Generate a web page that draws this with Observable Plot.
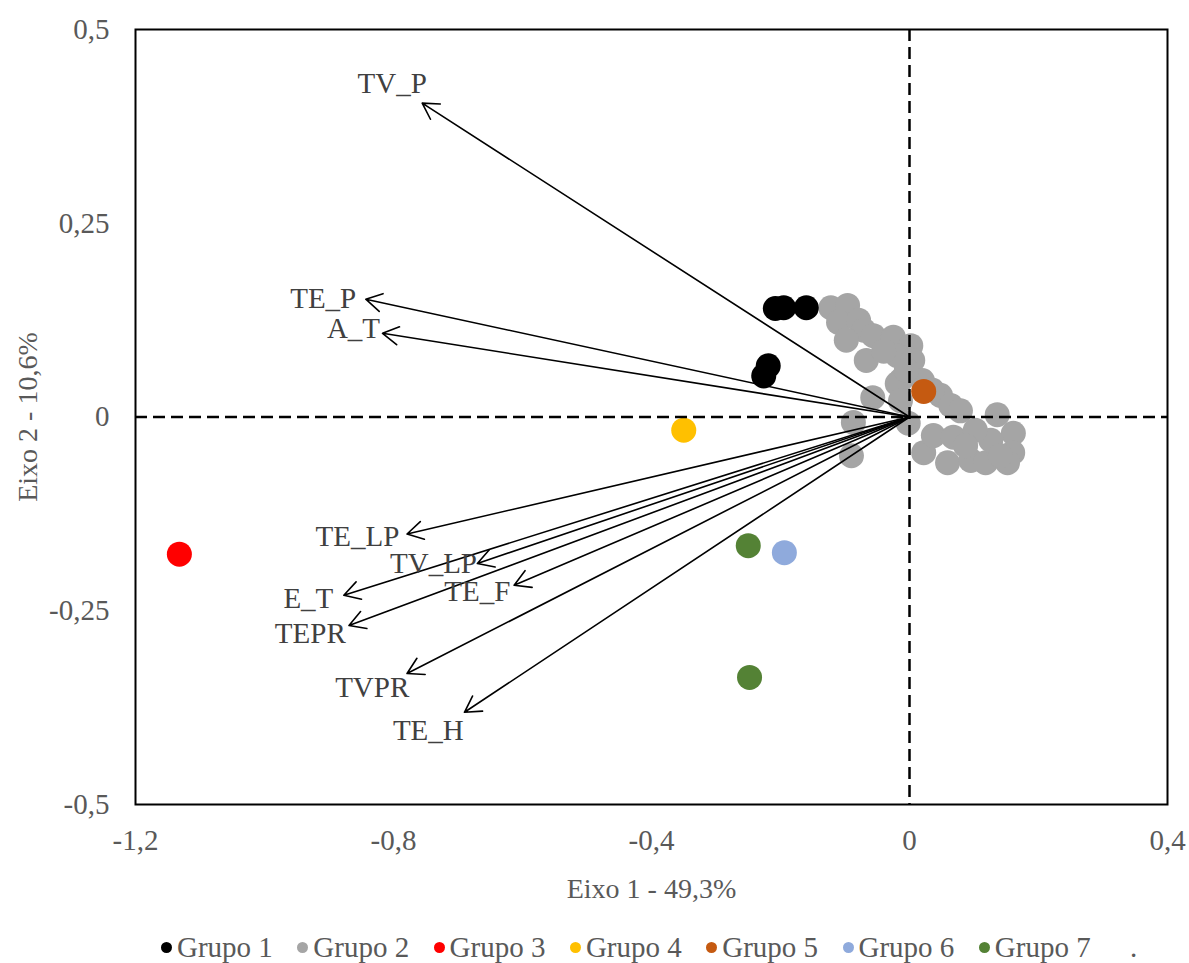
<!DOCTYPE html>
<html><head><meta charset="utf-8">
<script src="https://cdn.jsdelivr.net/npm/d3@7"></script>
<script src="https://cdn.jsdelivr.net/npm/@observablehq/plot@0.6"></script>
<style>
body{margin:0;background:#fff;font-family:"Liberation Serif",serif;}
#chart svg{display:block;}
#legend{position:relative;height:58px;font-size:29px;color:#595959;}
.item{position:absolute;top:27px;display:flex;align-items:center;white-space:nowrap;line-height:30px;}
.mk{display:inline-block;width:11px;height:11px;border-radius:50%;margin-right:5px;}
</style></head><body>
<div id="chart"></div>
<div id="legend"></div>
<script>
const groups = ["Grupo 1","Grupo 2","Grupo 3","Grupo 4","Grupo 5","Grupo 6","Grupo 7"];
const groupColors = ["#000000","#A5A5A5","#FF0000","#FFC000","#C55A11","#8FAADC","#548235"];

const g1X = [-0.208,-0.195,-0.160,-0.219,-0.226];
const g1Y = [0.140,0.141,0.141,0.066,0.053];
const g2X = [-0.122,-0.096,-0.110,-0.079,-0.071,-0.098,-0.056,-0.025,-0.067,0.002,-0.019,0.005,-0.014,0.020,-0.057,-0.019,-0.087,-0.090,-0.002,-0.014,0.048,0.064,0.079,0.136,0.161,0.160,0.022,0.037,0.068,0.059,0.095,0.118,0.152,0.126,0.102,0.087,0.141,-0.040,-0.005,0.035];
const g2Y = [0.141,0.144,0.122,0.125,0.112,0.099,0.105,0.103,0.073,0.092,0.079,0.073,0.047,0.047,0.025,0.043,-0.007,-0.050,-0.008,0.021,0.028,0.015,0.008,0.003,-0.021,-0.046,-0.046,-0.024,-0.026,-0.059,-0.056,-0.059,-0.059,-0.030,-0.017,-0.037,-0.050,0.085,0.060,0.035];
const g3X = [-1.132], g3Y = [-0.177];
const g4X = [-0.350], g4Y = [-0.017];
const g5X = [0.022], g5Y = [0.033];
const g6X = [-0.194], g6Y = [-0.175];
const g7X = [-0.250,-0.248], g7Y = [-0.166,-0.336];

const variables = ["TV_P","TE_P","A_T","TE_LP","TV_LP","TE_F","E_T","TEPR","TVPR","TE_H"];
const loadX = [-0.7555,-0.843,-0.817,-0.779,-0.670,-0.613,-0.877,-0.869,-0.779,-0.690];
const loadY = [0.405,0.152,0.108,-0.151,-0.189,-0.217,-0.230,-0.269,-0.331,-0.381];
const labelX = [-0.802,-0.909,-0.862,-0.856,-0.738,-0.670,-0.932,-0.929,-0.833,-0.746];
const labelY = [0.430,0.153,0.114,-0.155,-0.189,-0.226,-0.235,-0.279,-0.349,-0.405];

const xTicks = [-1.2,-0.8,-0.4,0,0.4];
const yTicks = [-0.5,-0.25,0,0.25,0.5];
const xTitle = "Eixo 1 - 49,3%";
const yTitle = "Eixo 2 - 10,6%";

const groupXs = [g1X,g2X,g3X,g4X,g5X,g6X,g7X];
const groupYs = [g1Y,g2Y,g3Y,g4Y,g5Y,g6Y,g7Y];
const drawOrder = [1,0,2,3,4,5,6];
const points = [];
for (const gi of drawOrder) {
  groupXs[gi].forEach((x,i) => points.push({group: groups[gi], x, y: groupYs[gi][i]}));
}
const loadings = variables.map((name,i) => ({name, x0:0, y0:0, x:loadX[i], y:loadY[i], lx:labelX[i], ly:labelY[i]}));
const fmt = d => String(d).replace(".", ",");

const plot = Plot.plot({
  width: 1189, height: 905,
  marginLeft: 135, marginRight: 22, marginTop: 29, marginBottom: 101,
  style: {fontFamily: "'Liberation Serif', serif", fontSize: "29px", color: "#595959", background: "white", overflow: "visible"},
  x: {domain: [-1.2, 0.4], ticks: xTicks, tickFormat: fmt, tickSize: 0, tickPadding: 25, label: null},
  y: {domain: [-0.5, 0.5], ticks: yTicks, tickFormat: fmt, tickSize: 0, tickPadding: 26, label: null},
  color: {domain: groups, range: groupColors},
  marks: [
    Plot.dot(points, {x: "x", y: "y", r: 12.5, fill: "group", stroke: null}),
    Plot.ruleX([0], {stroke: "black", strokeWidth: 2.5, strokeDasharray: "12,6"}),
    Plot.ruleY([0], {stroke: "black", strokeWidth: 2.5, strokeDasharray: "12,6"}),
    Plot.arrow(loadings, {x1: "x0", y1: "y0", x2: "x", y2: "y", stroke: "black", strokeWidth: 1.6, headLength: 17, headAngle: 60}),
    Plot.text(loadings, {x: "lx", y: "ly", text: "name", fill: "#404040", fontSize: 29}),
    Plot.frame({stroke: "black", strokeWidth: 2}),
    Plot.text([xTitle], {frameAnchor: "bottom", dy: 85, lineAnchor: "middle", textAnchor: "middle", fill: "#595959", fontSize: 28}),
    Plot.text([yTitle], {frameAnchor: "left", dx: -107, rotate: -90, lineAnchor: "middle", textAnchor: "middle", fill: "#595959", fontSize: 28})
  ]
});
document.getElementById("chart").appendChild(plot);

const legend = document.getElementById("legend");
groups.forEach((g,i) => {
  const it = document.createElement("div");
  it.className = "item";
  it.style.left = (161 + i*136.3) + "px";
  const mk = document.createElement("span");
  mk.className = "mk";
  mk.style.background = groupColors[i];
  it.appendChild(mk);
  it.appendChild(document.createTextNode(g));
  legend.appendChild(it);
});
const dot = document.createElement("div");
dot.className = "item";
dot.style.left = "1130px";
dot.textContent = ".";
legend.appendChild(dot);
</script>
</body></html>
